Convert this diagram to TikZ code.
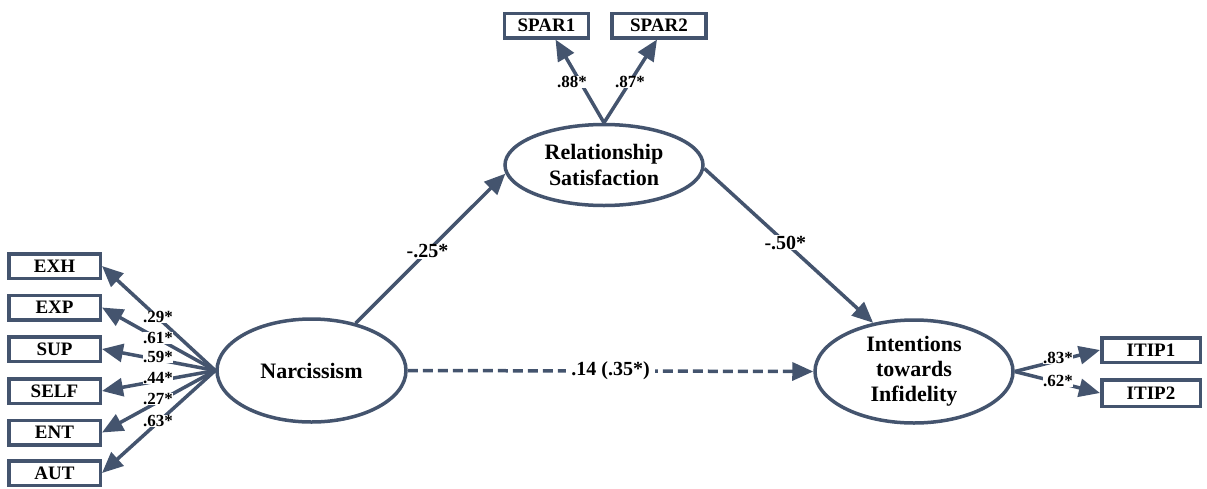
\documentclass[tikz,border=0pt]{standalone}
\usepackage{fontspec}
\setmainfont{Liberation Serif}
\usetikzlibrary{arrows.meta,shapes.geometric}
\definecolor{lc}{RGB}{68,84,110}
\begin{document}
\begin{tikzpicture}[x=1pt,y=-1pt,
  latent/.style={ellipse,draw=lc,line width=3.5pt,fill=white,align=center,inner sep=0pt,
    font=\fontsize{22}{26}\selectfont\bfseries},
  obs/.style={rectangle,draw=lc,line width=3.5pt,fill=white,inner sep=0pt,minimum height=24.5pt,
    font=\fontsize{19}{21}\selectfont\bfseries},
  path/.style={draw=lc,line width=3.5pt,-{Triangle[length=21pt,width=18pt]}},
  lab/.style={fill=white,inner sep=1pt,font=\fontsize{20}{22}\selectfont\bfseries},
  slab/.style={fill=white,inner sep=0.5pt,font=\fontsize{17}{19}\selectfont\bfseries}]
\useasboundingbox (0,0) rectangle (1207,488);

% latent variables
\node[latent,minimum width=189pt,minimum height=103pt] (N) at (311.5,370.5) {Narcissism};
\node[latent,minimum width=198pt,minimum height=81pt] (RS) at (604,165) {Relationship\\Satisfaction};
\node[latent,minimum width=198pt,minimum height=103pt,font=\fontsize{22}{25}\selectfont\bfseries] (IT) at (914,371.5) {Intentions\\towards\\Infidelity};

% indicators
\node[obs,minimum width=91.5pt] (exh) at (54.5,266) {EXH};
\node[obs,minimum width=91.5pt] (exp) at (54.5,307.5) {EXP};
\node[obs,minimum width=91.5pt] (sup) at (54.5,349) {SUP};
\node[obs,minimum width=91.5pt] (self) at (54.5,391) {SELF};
\node[obs,minimum width=91.5pt] (ent) at (54.5,432.5) {ENT};
\node[obs,minimum width=91.5pt] (aut) at (54.5,473) {AUT};
\node[obs,minimum width=84pt] (spar1) at (546.5,25.5) {SPAR1};
\node[obs,minimum width=94pt] (spar2) at (659,25.5) {SPAR2};
\node[obs,minimum width=98.5pt] (itip1) at (1151,350) {ITIP1};
\node[obs,minimum width=98.5pt,minimum height=26.5pt] (itip2) at (1151,393) {ITIP2};

% loadings
\foreach \t in {exh,exp,sup,self,ent,aut}{
  \draw[path] (N.west) -- (\t.east);
}
\draw[path] (RS.north) -- ([xshift=9pt]spar1.south);
\draw[path] (RS.north) -- ([xshift=-2pt]spar2.south);
\draw[path] (IT.east) -- (itip1.west);
\draw[path] (IT.east) -- (itip2.west);

% structural paths
\draw[path] (N.47.5) -- node[lab,pos=0.48] {-.25*} (RS.185);
\draw[path] (RS.-2) -- node[lab,pos=0.48] {-.50*} (IT.130);
\draw[path,dash pattern=on 10pt off 5pt] (N.east) -- node[lab,inner xsep=5pt] {.14 (.35*)} (IT.west);

% loading labels
\node[slab] (l1) at (158,317) {.29*};
\node[slab] (l2) at (158,338) {.61*};
\node[slab] (l3) at (158,357) {.59*};
\node[slab] (l4) at (158,378) {.44*};
\node[slab] (l5) at (158,399) {.27*};
\node[slab] (l6) at (158,421) {.63*};
\node[slab] (l7) at (572,82) {.88*};
\node[slab] (l8) at (630,82) {.87*};
\node[slab] (l9) at (1058,358) {.83*};
\node[slab] (l10) at (1058,381) {.62*};
\end{tikzpicture}
\end{document}
